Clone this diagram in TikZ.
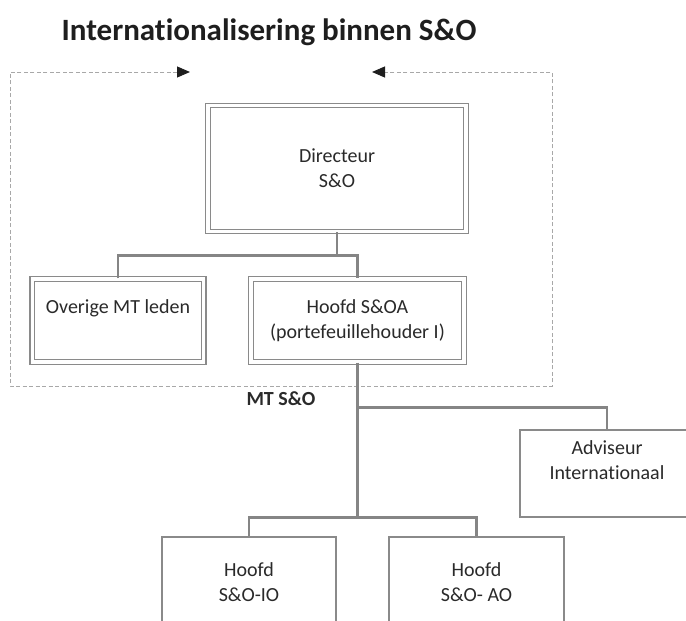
\documentclass[tikz,border=0pt]{standalone}
\usepackage{fontspec}
\setmainfont[Ligatures=NoCommon]{Carlito}
\usetikzlibrary{arrows.meta}
\definecolor{txt}{HTML}{2A2A2A}
\definecolor{titlecol}{HTML}{1E1E1E}
\definecolor{boxline}{HTML}{8A8A8A}
\definecolor{conncol}{HTML}{858585}
\definecolor{dashcol}{HTML}{A8A8A8}
\definecolor{tipcol}{HTML}{1E1E1E}
\begin{document}
\begin{tikzpicture}[x=1pt,y=-1pt,
  dbox/.style={draw=boxline, line width=1.3pt, double=white, double distance=3.2pt, inner sep=0pt, fill=white},
  sbox/.style={draw=boxline, line width=1.3pt, inner sep=0pt, fill=white},
  lbl/.style={text=txt, font=\fontsize{20}{25}\selectfont, align=center, inner sep=0pt},
  conn/.style={draw=conncol, line width=2.4pt},
  frame/.style={draw=dashcol, line width=1pt, dash pattern=on 4pt off 2.5pt}
]
\useasboundingbox (0,0) rectangle (686,621);
\clip (0,0) rectangle (686,621);

% title
\node[font=\bfseries\fontsize{31}{37}\selectfont, text=titlecol] (title) at (269,32) {Internationalisering binnen S\&O};

% dashed MT frame with arrows
\coordinate (fa) at (190,72);
\coordinate (ftl) at (10,72);
\coordinate (fbl) at (10,386);
\coordinate (fbr) at (552,386);
\coordinate (ftr) at (552,72);
\coordinate (fb) at (372,72);
\draw[frame, {Triangle[length=13pt,width=11pt,color=tipcol]}-{Triangle[length=13pt,width=11pt,color=tipcol]}]
  (fa) -- (ftl) -- (fbl) -- (fbr) -- (ftr) -- (fb);

% boxes
\node[dbox, minimum width=258pt, minimum height=126pt, lbl] (dir) at (337,168.5) {Directeur\\S\&O};
\node[dbox, minimum width=171.5pt, minimum height=83pt] (ov) at (118,320.5) {};
\node[lbl] (ovt) at (118,308) {Overige MT leden};
\node[dbox, minimum width=213pt, minimum height=83pt, lbl] (hs) at (357.5,320.5) {Hoofd S\&OA\\(portefeuillehouder I)};

\node[font=\bfseries\fontsize{20}{24}\selectfont, text=txt] (mt) at (281,399) {MT S\&O};

\node[sbox, minimum width=174pt, minimum height=87pt] (adv) at (607,473.5) {};
\node[lbl] (advt) at (607,460) {Adviseur\\Internationaal};

\node[sbox, minimum width=174pt, minimum height=120pt] (io) at (249,597) {};
\node[lbl] (iot) at (249,582) {Hoofd\\S\&O-IO};
\node[sbox, minimum width=175pt, minimum height=120pt] (ao) at (476.5,597) {};
\node[lbl] (aot) at (476.5,582) {Hoofd\\S\&O- AO};

% connectors
\draw[conn] (dir.south) -- ++(0,23.5) coordinate (j1);
\draw[conn] (ov.north) |- (j1) -| (hs.north);
\draw[conn] (hs.south) -- ++(0,45) coordinate (j2);
\draw[conn] (j2) -| (adv.north);
\draw[conn] (j2) -- ++(0,110) coordinate (j3);
\draw[conn] (io.north) |- (j3) -| (ao.north);
\end{tikzpicture}
\end{document}
